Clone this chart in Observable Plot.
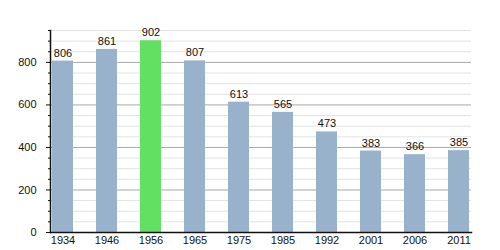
<!DOCTYPE html>
<html>
<head>
<meta charset="utf-8">
<script src="https://cdn.jsdelivr.net/npm/d3@7"></script>
<script src="https://cdn.jsdelivr.net/npm/@observablehq/plot@0.6"></script>
<style>
  html, body { margin: 0; padding: 0; background: #fff; }
  #chart svg { display: block; }
</style>
</head>
<body>
<div id="chart"></div>
<script>
const years = ["1934", "1946", "1956", "1965", "1975", "1985", "1992", "2001", "2006", "2011"];
const population = [806, 861, 902, 807, 613, 565, 473, 383, 366, 385];
const highlightYear = "1956";
const yMajorTicks = [0, 200, 400, 600, 800];
const yMinorTicks = [50, 100, 150, 250, 300, 350, 450, 500, 550, 650, 700, 750, 850, 900, 950];

const data = years.map((year, i) => ({year, value: population[i]}));

const chart = Plot.plot({
  width: 500,
  height: 250,
  marginLeft: 50,
  marginRight: 29,
  marginTop: 30,
  marginBottom: 18,
  style: {fontFamily: "'Liberation Sans', Arial, sans-serif", fontSize: "11px", color: "#111", background: "#fff"},
  x: {domain: years, paddingInner: 0.53, paddingOuter: 0, label: null},
  y: {domain: [0, 950], label: null},
  marks: [
    Plot.ruleY(yMinorTicks, {stroke: "#e2e2e2", strokeWidth: 1}),
    Plot.ruleY(yMajorTicks.filter(d => d > 0), {stroke: "#a8a8a8", strokeWidth: 1}),
    Plot.barY(data, {x: "year", y: "value", fill: d => d.year === highlightYear ? "#62e062" : "#99b2cc"}),
    Plot.text(data, {x: "year", y: "value", text: d => String(d.value), dy: -8, fontSize: 11, fill: "#111"}),
    Plot.axisY(yMinorTicks, {tickSize: 2, tickFormat: () => "", label: null, stroke: "#111"}),
    Plot.axisY(yMajorTicks, {tickSize: 4, tickPadding: 10, label: null, fontSize: 11, stroke: "#111"}),
    Plot.axisX({tickSize: 0, tickPadding: 4, label: null, fontSize: 11}),
    Plot.frame({anchor: "left", stroke: "#111", strokeWidth: 1.5}),
    Plot.frame({anchor: "bottom", stroke: "#111", strokeWidth: 1.5})
  ]
});
document.getElementById("chart").appendChild(chart);
</script>
</body>
</html>
